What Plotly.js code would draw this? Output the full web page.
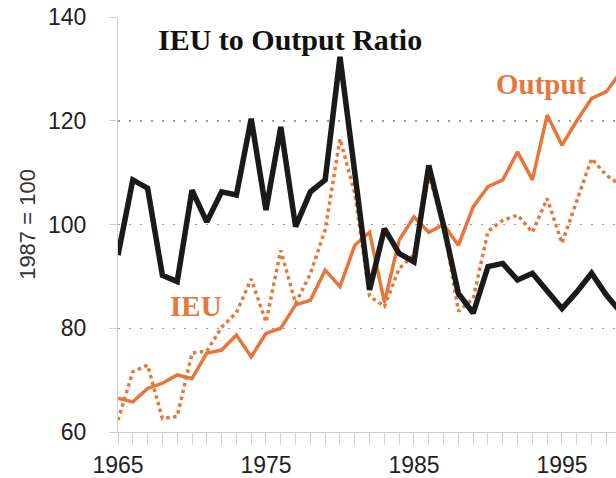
<!DOCTYPE html>
<html>
<head>
<meta charset="utf-8">
<script src="https://cdn.plot.ly/plotly-3.0.1.min.js"></script>
<style>html,body{margin:0;padding:0;background:#fff;}#chart{width:616px;height:478px;}</style>
</head>
<body>
<div id="chart"></div>
<script>
const years = [1965,1966,1967,1968,1969,1970,1971,1972,1973,1974,1975,1976,1977,1978,1979,1980,1981,1982,1983,1984,1985,1986,1987,1988,1989,1990,1991,1992,1993,1994,1995,1996,1997,1998,1999];
const output = [66.5,65.8,68.4,69.4,71.0,70.3,75.2,75.8,78.7,74.5,79.0,80.0,84.5,85.4,91.2,88.0,96.0,98.5,85.0,97.0,101.5,98.5,100,96.0,103.4,107.3,108.6,114.0,108.6,121.1,115.3,120.0,124.3,125.6,129.5];
const ieu = [62.3,71.6,72.9,62.6,63.0,75.2,75.6,80.2,83.0,89.5,81.2,95.0,84.8,90.5,99.0,116.5,106.0,86.2,84.2,91.5,94.2,109.5,100,83.3,85.7,98.7,100.8,101.8,98.5,105.0,96.4,104.6,112.7,109.5,107.5];
const ratio = [94.1,108.6,107.0,90.2,89.0,106.6,100.5,106.3,105.7,120.4,102.8,118.8,99.6,106.3,108.6,132.3,110.0,87.4,99.2,94.4,92.8,111.4,99.8,86.7,82.9,91.9,92.5,89.3,90.6,87.0,83.8,87.0,90.6,86.4,83.0];
const yTicks = [60,80,100,120,140];
const xTicks = [1965,1975,1985,1995];
const labels = {ratio:"IEU to Output Ratio", output:"Output", ieu:"IEU", yTitle:"1987 = 100"};

const orange = "#E8763A";
const traces = [
  {x: years, y: ieu, type: "scatter", mode: "lines", name: labels.ieu,
   line: {color: orange, width: 3.5, dash: "dot"}},
  {x: years, y: output, type: "scatter", mode: "lines", name: labels.output,
   line: {color: orange, width: 3.5}},
  {x: years, y: ratio, type: "scatter", mode: "lines", name: labels.ratio,
   line: {color: "#1a1a1a", width: 5.5}}
];

const layout = {
  width: 616, height: 478,
  margin: {l: 118, r: 0, t: 17, b: 46},
  paper_bgcolor: "#fff", plot_bgcolor: "#fff",
  showlegend: false,
  font: {family: "Liberation Sans, Arial, sans-serif", color: "#222"},
  xaxis: {
    range: [1965, 1998.65],
    tickvals: xTicks, ticktext: xTicks.map(String),
    ticks: "outside", ticklen: 12, tickcolor: "#d0d0d0", tickwidth: 1,
    minor: {dtick: 1, tick0: 1965, ticks: "outside", ticklen: 12, tickcolor: "#d0d0d0", tickwidth: 1, showgrid: false},
    showline: true, linecolor: "#d0d0d0", linewidth: 1,
    showgrid: false, zeroline: false,
    tickfont: {size: 23, color: "#222"},
    ticklabelstandoff: 0
  },
  yaxis: {
    range: [60, 140],
    tickvals: yTicks,
    ticks: "outside", ticklen: 8, tickcolor: "#d0d0d0", tickwidth: 1,
    showline: true, linecolor: "#d0d0d0", linewidth: 1,
    showgrid: true, gridcolor: "#9a9a9a", gridwidth: 1.5, griddash: "2px,9px",
    zeroline: false,
    tickfont: {size: 23, color: "#222"},
    ticklabelstandoff: 18,
    title: {text: labels.yTitle, font: {size: 22, color: "#333"}, standoff: 6}
  },
  annotations: [
    {x: 1976.6, y: 135.6, xref: "x", yref: "y", text: labels.ratio, showarrow: false,
     xanchor: "center", yanchor: "middle",
     font: {family: "Liberation Serif, Times New Roman, serif", size: 30, weight: 700, color: "#111"}},
    {x: 1993.6, y: 127.0, xref: "x", yref: "y", text: labels.output, showarrow: false,
     xanchor: "center", yanchor: "middle",
     font: {family: "Liberation Serif, Times New Roman, serif", size: 29, weight: 700, color: orange}},
    {x: 1970.3, y: 84.3, xref: "x", yref: "y", text: labels.ieu, showarrow: false,
     xanchor: "center", yanchor: "middle",
     font: {family: "Liberation Serif, Times New Roman, serif", size: 29, weight: 700, color: orange}}
  ]
};

Plotly.newPlot("chart", traces, layout, {displayModeBar: false, staticPlot: true});
</script>
</body>
</html>
